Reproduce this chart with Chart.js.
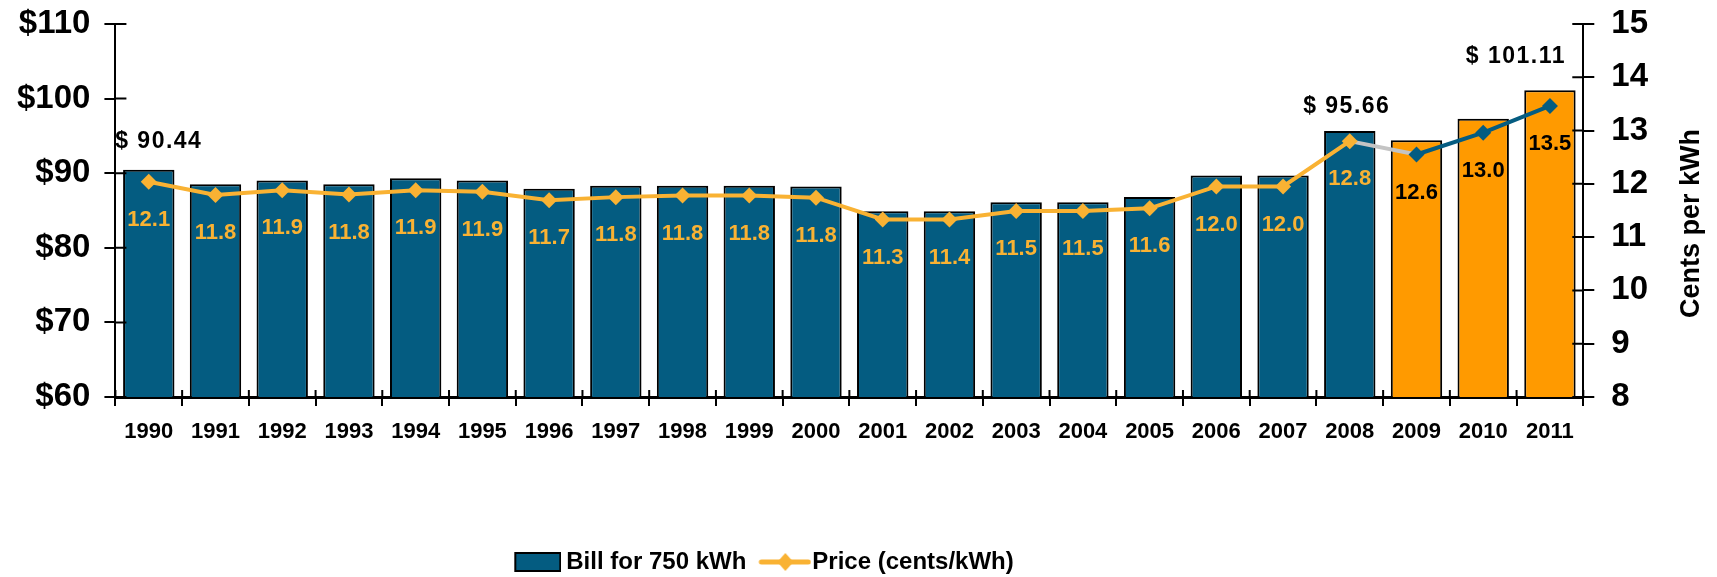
<!DOCTYPE html>
<html>
<head>
<meta charset="utf-8">
<script src="https://cdn.jsdelivr.net/npm/chart.js@4.4.1/dist/chart.umd.min.js"></script>
<style>
html,body{margin:0;padding:0;background:#fff}
#wrap{width:1717px;height:577px;position:relative}
</style>
</head>
<body>
<div id="wrap"><canvas id="c"></canvas></div>
<script>
// ── data ──
const years=['1990','1991','1992','1993','1994','1995','1996','1997','1998','1999','2000','2001','2002','2003','2004','2005','2006','2007','2008','2009','2010','2011'];
const bill=[90.44,88.5,89.0,88.5,89.3,89.0,87.9,88.3,88.3,88.3,88.2,84.9,84.9,86.1,86.1,86.8,89.7,89.7,95.66,94.4,97.3,101.11];
const price=[12.04,11.79,11.88,11.8,11.88,11.85,11.69,11.75,11.78,11.78,11.74,11.33,11.33,11.49,11.49,11.54,11.95,11.95,12.8,12.55,12.96,13.46];
const priceLabels=['12.1','11.8','11.9','11.8','11.9','11.9','11.7','11.8','11.8','11.8','11.8','11.3','11.4','11.5','11.5','11.6','12.0','12.0','12.8','12.6','13.0','13.5'];
const noteIdx=[0,18,21];       // bars with a $ value above them
const firstForecast=19;        // 2009 onwards drawn orange

const BLUE='#045c81', ORANGE='#ff9a00', LINE='#f9b233', GRAY='#c4c4c4';
const FONT="'Liberation Sans', Arial, sans-serif";

// legend swatches
function swatchBox(){
  const c=document.createElement('canvas');c.width=64;c.height=22;
  const g=c.getContext('2d');
  g.fillStyle=BLUE;g.fillRect(18,2,45,18);
  g.strokeStyle='#000';g.lineWidth=2;g.strokeRect(18,2,45,18);
  return c;
}
function swatchLine(){
  const c=document.createElement('canvas');c.width=72;c.height=22;
  const g=c.getContext('2d');
  g.strokeStyle=LINE;g.lineWidth=5;g.lineCap='round';
  g.beginPath();g.moveTo(22,11);g.lineTo(69,11);g.stroke();
  g.fillStyle=LINE;g.beginPath();g.moveTo(46,2);g.lineTo(54,11);g.lineTo(46,20);g.lineTo(38,11);g.closePath();g.fill();
  return c;
}

const extras={
  id:'extras',
  afterLayout(chart){
    // legend sits left of centre in the original
    chart.legend.left-=75;chart.legend.right-=75;
  },
  afterDatasetsDraw(chart){
    const ctx=chart.ctx;
    const lineMeta=chart.getDatasetMeta(0), barMeta=chart.getDatasetMeta(1);
    ctx.save();
    ctx.textAlign='center';ctx.textBaseline='middle';
    ctx.font='bold 22px '+FONT;
    lineMeta.data.forEach((pt,i)=>{
      ctx.fillStyle=i>=firstForecast?'#000':LINE;
      ctx.fillText(priceLabels[i],pt.x,pt.y+38);
    });
    ctx.font='bold 23px '+FONT;
    ctx.letterSpacing='1.5px';
    ctx.fillStyle='#000';
    const shift={0:10,18:-3,21:-34}, lift={0:28,18:24,21:34};
    noteIdx.forEach(i=>{
      const b=barMeta.data[i];
      ctx.fillText('$ '+bill[i].toFixed(2),b.x+shift[i],b.y-lift[i]);
    });
    ctx.restore();
  },
  afterDraw(chart){
    const {ctx,chartArea:a,scales:{x,y,y1}}=chart;
    ctx.save();
    ctx.strokeStyle='#000';ctx.lineWidth=2;
    ctx.beginPath();
    y.ticks.forEach((t,i)=>{const p=y.getPixelForTick(i);ctx.moveTo(a.left,p);ctx.lineTo(a.left+11,p);});
    y1.ticks.forEach((t,i)=>{const p=y1.getPixelForTick(i);ctx.moveTo(a.right-11,p);ctx.lineTo(a.right,p);});
    for(let i=0;i<=years.length;i++){const p=x.getPixelForValue(i-0.5);ctx.moveTo(p,a.bottom-7);ctx.lineTo(p,a.bottom);}
    ctx.stroke();
    // right axis title, reading bottom to top
    ctx.translate(chart.width-25,(a.top+a.bottom)/2+13);
    ctx.rotate(-Math.PI/2);
    ctx.font='bold 27px '+FONT;ctx.fillStyle='#000';
    ctx.textAlign='center';ctx.textBaseline='middle';
    ctx.fillText('Cents per kWh',0,0);
    ctx.restore();
  }
};

new Chart(document.getElementById('c'),{
  data:{
    labels:years,
    datasets:[
      {type:'line',label:'Price (cents/kWh)',data:price,yAxisID:'y1',order:0,
       borderColor:LINE,borderWidth:4,tension:0,fill:false,
       segment:{borderColor:c=>c.p0DataIndex===firstForecast-1?GRAY:(c.p0DataIndex>=firstForecast?BLUE:LINE)},
       pointStyle:'rectRot',pointRadius:8,pointBorderWidth:0,
       pointBackgroundColor:price.map((v,i)=>i>=firstForecast?BLUE:LINE)},
      {type:'bar',label:'Bill for 750 kWh',data:bill,yAxisID:'y',order:1,
       backgroundColor:bill.map((v,i)=>i>=firstForecast?ORANGE:BLUE),
       borderColor:'#000',borderWidth:2,borderSkipped:false,
       barPercentage:0.77,categoryPercentage:1}
    ]
  },
  options:{
    responsive:true,maintainAspectRatio:false,animation:false,
    layout:{padding:{left:3,right:52,top:0,bottom:-7}},
    plugins:{
      tooltip:{enabled:false},
      legend:{position:'bottom',
        labels:{usePointStyle:true,pointStyleWidth:50,padding:4,color:'#000',
          font:{family:FONT,size:24,weight:'bold'},
          generateLabels:()=>[
            {text:'Bill for 750 kWh',pointStyle:swatchBox(),fillStyle:BLUE,strokeStyle:'#000',lineWidth:0,hidden:false,datasetIndex:1},
            {text:'Price (cents/kWh)',pointStyle:swatchLine(),fillStyle:LINE,strokeStyle:LINE,lineWidth:0,hidden:false,datasetIndex:0}
          ]}}
    },
    scales:{
      x:{offset:true,
        grid:{offset:true,drawOnChartArea:false,drawTicks:true,tickLength:9,color:'#000',lineWidth:2},
        border:{display:true,color:'#000',width:3},
        ticks:{color:'#000',padding:13,autoSkip:false,maxRotation:0,font:{family:FONT,size:22,weight:'bold'}},
        afterFit:s=>{s.height=149;}},
      y:{position:'left',min:60,max:110,
        grid:{drawOnChartArea:false,tickLength:11,color:'#000',lineWidth:2},
        border:{display:true,color:'#000',width:2},
        ticks:{stepSize:10,color:'#000',padding:14,font:{family:FONT,size:33,weight:'bold',lineHeight:0.6},callback:v=>'$'+v}},
      y1:{position:'right',min:8,max:15,
        grid:{drawOnChartArea:false,tickLength:11,color:'#000',lineWidth:2},
        border:{display:true,color:'#000',width:2},
        ticks:{stepSize:1,color:'#000',padding:17,font:{family:FONT,size:33,weight:'bold',lineHeight:0.4}}}
    }
  },
  plugins:[extras]
});
</script>
</body>
</html>
